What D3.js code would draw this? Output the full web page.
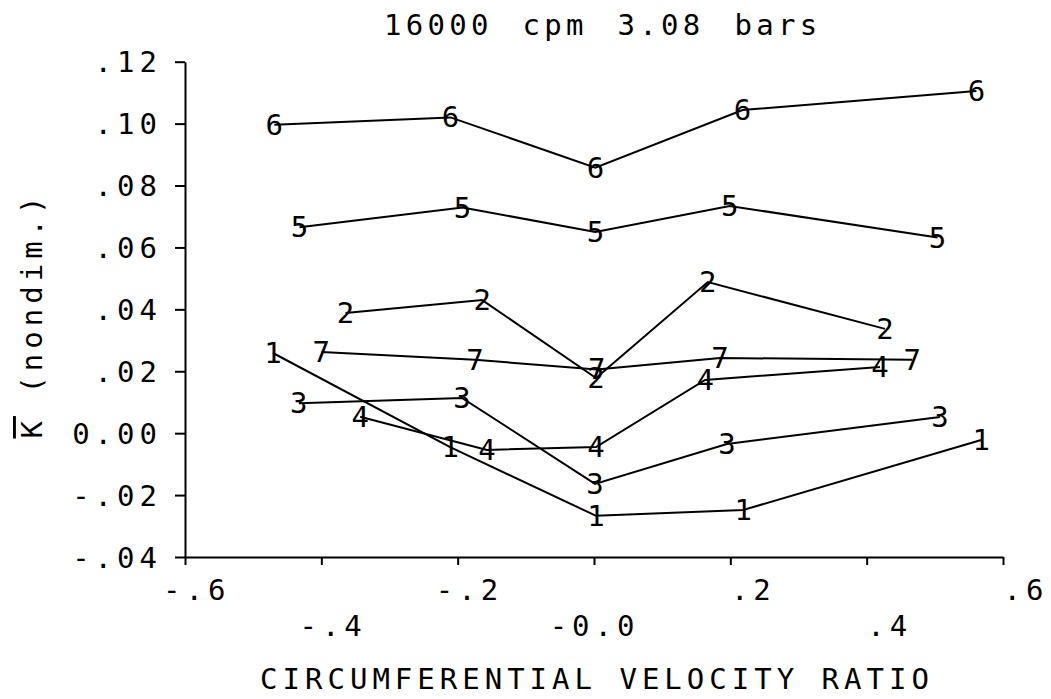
<!DOCTYPE html>
<html>
<head>
<meta charset="utf-8">
<script src="https://cdn.jsdelivr.net/npm/d3@7"></script>
<style>
  html, body { margin: 0; padding: 0; background: #fff; }
  svg text { font-family: "DejaVu Sans Mono", "Liberation Mono", monospace; fill: #000; }
</style>
</head>
<body>
<svg id="chart" width="1051" height="699"></svg>
<script>
// ---- Data ----
const titleText = "16000 cpm 3.08 bars";
const xAxisTitle = "CIRCUMFERENTIAL VELOCITY RATIO";
const yAxisTitleSymbol = "K";
const yAxisTitleRest = " (nondim.)";

const xTicks = [-0.6, -0.4, -0.2, 0, 0.2, 0.4, 0.6];
const xTickLabels = ["-.6", "-.4", "-.2", "-0.0", ".2", ".4", ".6"];
const yTicks = [0.12, 0.10, 0.08, 0.06, 0.04, 0.02, 0.00, -0.02, -0.04];
const yTickLabels = [".12", ".10", ".08", ".06", ".04", ".02", "0.00", "-.02", "-.04"];

const seriesIds = ["1", "2", "3", "4", "5", "6", "7"];
const ratio1 = [-0.471, -0.211, 0.003, 0.219, 0.568];
const kbar1  = [0.0259, -0.0045, -0.0267, -0.0248, -0.0022];
const ratio2 = [-0.3645, -0.164, 0.003, 0.167, 0.427];
const kbar2  = [0.0388, 0.0430, 0.0178, 0.0488, 0.0337];
const ratio3 = [-0.433, -0.1936, 0.0015, 0.195, 0.5076];
const kbar3  = [0.0097, 0.0114, -0.0164, -0.0035, 0.0052];
const ratio4 = [-0.343, -0.157, 0.003, 0.163, 0.4195];
const kbar4  = [0.0053, -0.0054, -0.0045, 0.0172, 0.0214];
const ratio5 = [-0.432, -0.193, 0.002, 0.199, 0.504];
const kbar5  = [0.0665, 0.0729, 0.0650, 0.0734, 0.0632];
const ratio6 = [-0.469, -0.2105, 0.002, 0.218, 0.561];
const kbar6  = [0.0996, 0.1020, 0.0858, 0.1044, 0.1105];
const ratio7 = [-0.400, -0.1746, 0.004, 0.185, 0.467];
const kbar7  = [0.0262, 0.0237, 0.0206, 0.0243, 0.0237];

const ratios = [ratio1, ratio2, ratio3, ratio4, ratio5, ratio6, ratio7];
const kbars  = [kbar1, kbar2, kbar3, kbar4, kbar5, kbar6, kbar7];

// ---- Layout ----
const svg = d3.select("#chart");
const x = d3.scaleLinear().domain([-0.6, 0.6]).range([185, 1003]);
const y = d3.scaleLinear().domain([-0.04, 0.12]).range([557, 61.7]);

const FS = 29;
const LS = 5;

// Title
svg.append("text")
  .attr("x", 384).attr("y", 35)
  .attr("font-size", FS)
  .style("letter-spacing", "4.3px")
  .style("word-spacing", "8px")
  .text(titleText);

// Y axis
const yAxis = d3.axisLeft(y)
  .tickValues(yTicks)
  .tickFormat((d, i) => yTickLabels[i])
  .tickSize(10).tickSizeOuter(0).tickPadding(13);
const gy = svg.append("g").attr("transform", "translate(185,0)").call(yAxis);
gy.select(".domain").attr("stroke", "#000").attr("stroke-width", 2);
gy.selectAll(".tick line").attr("stroke", "#000").attr("stroke-width", 2);
gy.selectAll(".tick text")
  .attr("font-size", FS)
  .attr("font-family", "DejaVu Sans Mono")
  .attr("dy", null)
  .attr("dominant-baseline", "central")
  .style("letter-spacing", LS + "px");

// X axis
const xAxis = d3.axisBottom(x)
  .tickValues(xTicks)
  .tickFormat((d, i) => xTickLabels[i])
  .tickSize(8).tickSizeOuter(0);
const gx = svg.append("g").attr("transform", "translate(0,557)").call(xAxis);
gx.select(".domain").attr("stroke", "#000").attr("stroke-width", 2);
gx.selectAll(".tick line").attr("stroke", "#000").attr("stroke-width", 2);
gx.selectAll(".tick text")
  .attr("font-size", FS)
  .attr("font-family", "DejaVu Sans Mono")
  .attr("text-anchor", "end")
  .attr("dy", null)
  .attr("x", 45)
  .attr("y", (d, i) => (i % 2 === 0 ? 43 : 79))
  .style("letter-spacing", LS + "px");

// X axis title
svg.append("text")
  .attr("x", 597).attr("y", 689)
  .attr("text-anchor", "middle")
  .attr("font-size", FS)
  .style("letter-spacing", LS + "px")
  .text(xAxisTitle);

// Y axis title (rotated)
const yt = svg.append("text")
  .attr("transform", "translate(42,315) rotate(-90)")
  .attr("text-anchor", "middle")
  .attr("font-size", FS)
  .style("letter-spacing", LS + "px");
yt.append("tspan").style("text-decoration", "overline").text(yAxisTitleSymbol);
yt.append("tspan").text(yAxisTitleRest);

// Series lines
const line = d3.line().x(d => x(d[0])).y(d => y(d[1]));
seriesIds.forEach((id, s) => {
  const pts = ratios[s].map((r, i) => [r, kbars[s][i]]);
  svg.append("path")
    .datum(pts)
    .attr("fill", "none")
    .attr("stroke", "#000")
    .attr("stroke-width", 2)
    .attr("d", line);
  svg.append("g").selectAll("text")
    .data(pts)
    .join("text")
    .attr("x", d => x(d[0]))
    .attr("y", d => y(d[1]))
    .attr("text-anchor", "middle")
    .attr("dominant-baseline", "central")
    .attr("font-size", FS)
    .text(id);
});
</script>
</body>
</html>
